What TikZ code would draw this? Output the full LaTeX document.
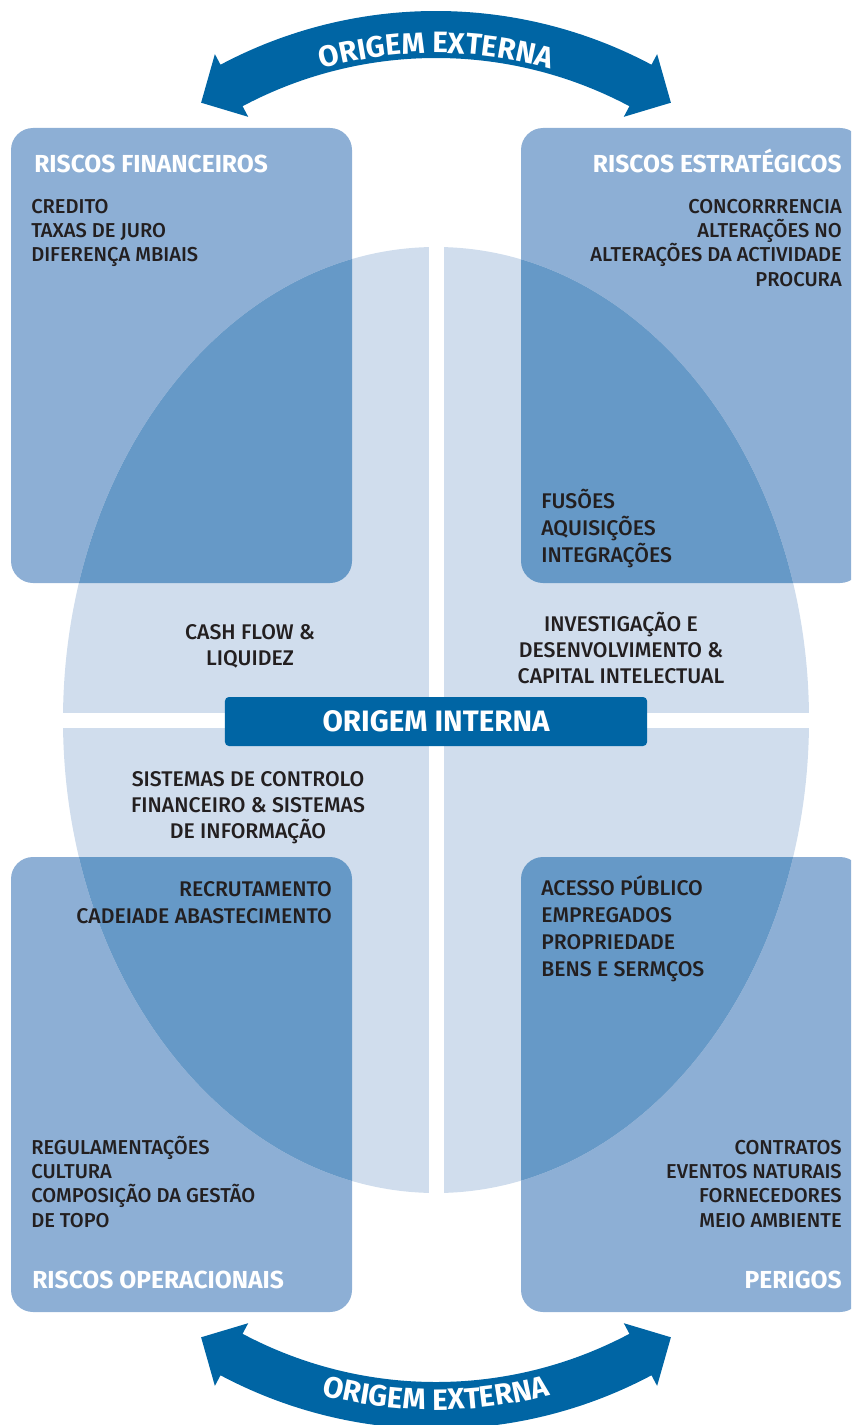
\documentclass[tikz,border=0pt]{standalone}
\usepackage{fontspec}
\setmainfont{Fira Sans}[UprightFont=* Medium, BoldFont=* Bold]
\usetikzlibrary{calc,decorations.text}
\definecolor{caixaazul}{HTML}{8DAFD5}
\definecolor{elipse}{HTML}{D0DDED}
\definecolor{sobreposto}{HTML}{6699C7}
\definecolor{origem}{HTML}{0065A4}
\definecolor{texto}{HTML}{231F20}
\tikzstyle{caixa}=[fill=caixaazul, rounded corners=0.55cm]
\tikzstyle{sobre}=[caixa, fill=sobreposto]
\tikzstyle{titulo}=[text=white, inner sep=0pt,
  font=\bfseries\fontsize{17.5}{20}\selectfont]
\tikzstyle{item}=[text=texto, inner sep=0pt,
  font=\fontsize{14.3}{17.1}\selectfont]
\tikzstyle{itemmeio}=[item, font=\fontsize{15.1}{18.4}\selectfont]
\tikzstyle{itemlargo}=[item, font=\fontsize{15.1}{19.1}\selectfont]
\tikzstyle{interna}=[fill=origem, rounded corners=0.1cm, text=white,
  minimum width=10.55cm, minimum height=1.225cm,
  font=\bfseries\fontsize{21}{24}\selectfont]
\newcommand{\caixa}[1]{(#1) rectangle ++(341,-455)}
\newcommand{\seta}[2]{($(#1)+(#2*62:459)$)
  arc[start angle=#2*62, end angle=#2*118, radius=459]
  -- ($(#1)+(#2*118:471)$) -- ($(#1)+(#2*122.6:436)$)
  -- ($(#1)+(#2*118:400)$) -- ($(#1)+(#2*118:412)$)
  arc[start angle=#2*118, end angle=#2*62, radius=412]
  -- ($(#1)+(#2*62:400)$) -- ($(#1)+(#2*57.4:436)$)
  -- ($(#1)+(#2*62:471)$) -- cycle}
\newcommand{\arcofont}{\color{white}\bfseries\fontsize{21}{24}\selectfont}

\begin{document}
\begin{tikzpicture}[x=0.025cm, y=0.025cm]
  \clip (0,0) rectangle (851,-1425);
  \coordinate (cima) at (436,-470);
  \coordinate (baixo) at (436,-970);
  \coordinate (centro) at (436,-720);

  % Draw diagram elements
  \fill[caixa] \caixa{11,-128};
  \fill[caixa] \caixa{521,-128};
  \fill[caixa] \caixa{11,-857};
  \fill[caixa] \caixa{521,-857};
  \fill[elipse] (centro) ellipse[x radius=373, y radius=473];
  \begin{scope}
    \clip (centro) ellipse[x radius=373, y radius=473];
    \fill[sobre] \caixa{11,-128};
    \fill[sobre] \caixa{521,-128};
    \fill[sobre] \caixa{11,-857};
    \fill[sobre] \caixa{521,-857};
  \end{scope}
  \fill[white] (429,-240) rectangle (444,-1200);
  \fill[white] (55,-713) rectangle (820,-728);

  % arrows
  \fill[origem] \seta{cima}{1};
  \fill[origem] \seta{baixo}{-1};
  \path[decorate, decoration={text along path, text align=center,
    text={|\arcofont|ORIGEM EXTERNA}}]
    ($(cima)+(118:417)$) arc[start angle=118, end angle=62, radius=417];
  \path[decorate, decoration={text along path, text align=center,
    text={|\arcofont|ORIGEM EXTERNA}}]
    ($(baixo)+(-118:440)$) arc[start angle=-118, end angle=-62, radius=440];

  \node[interna] (interna) at (436,-721.5) {ORIGEM INTERNA};

  % titles
  \node[titulo, anchor=base west] (tfin) at (34,-173) {RISCOS FINANCEIROS};
  \node[titulo, anchor=base east] (test) at (842,-173) {RISCOS ESTRATÉGICOS};
  \node[titulo, anchor=base west] (tope) at (32,-1288) {RISCOS OPERACIONAIS};
  \node[titulo, anchor=base east] (tper) at (842,-1288) {PERIGOS};

  % items (anchored at the last line)
  \node[item, anchor=base west, align=left] (ifin) at (31,-262)
    {CREDITO\\TAXAS DE JURO\\DIFERENÇA MBIAIS};
  \node[item, anchor=base east, align=right] (iest) at (842,-286)
    {CONCORRRENCIA\\ALTERAÇÕES NO\\ALTERAÇÕES DA ACTIVIDADE\\PROCURA};
  \node[itemlargo, anchor=base west, align=left] (ifus) at (541,-562)
    {FUSÕES\\AQUISIÇÕES\\INTEGRAÇÕES};
  \node[itemmeio, anchor=base, align=center] (icash) at (250,-665)
    {CASH FLOW \&\\LIQUIDEZ};
  \node[itemmeio, anchor=base, align=center] (iinv) at (621,-683)
    {INVESTIGAÇÃO E\\DESENVOLVIMENTO \&\\CAPITAL INTELECTUAL};
  \node[itemmeio, anchor=base, align=center] (isis) at (248,-838)
    {SISTEMAS DE CONTROLO\\FINANCEIRO \& SISTEMAS\\DE INFORMAÇÃO};
  \node[itemlargo, anchor=base east, align=right] (irec) at (332,-923)
    {RECRUTAMENTO\\CADEIADE ABASTECIMENTO};
  \node[item, anchor=base west, align=left] (ireg) at (31,-1227)
    {REGULAMENTAÇÕES\\CULTURA\\COMPOSIÇÃO DA GESTÃO\\DE TOPO};
  \node[itemlargo, anchor=base west, align=left] (iace) at (541,-976)
    {ACESSO PÚBLICO\\EMPREGADOS\\PROPRIEDADE\\BENS E SERMÇOS};
  \node[item, anchor=base east, align=right] (icon) at (842,-1227)
    {CONTRATOS\\EVENTOS NATURAIS\\FORNECEDORES\\MEIO AMBIENTE};
\end{tikzpicture}
\end{document}
